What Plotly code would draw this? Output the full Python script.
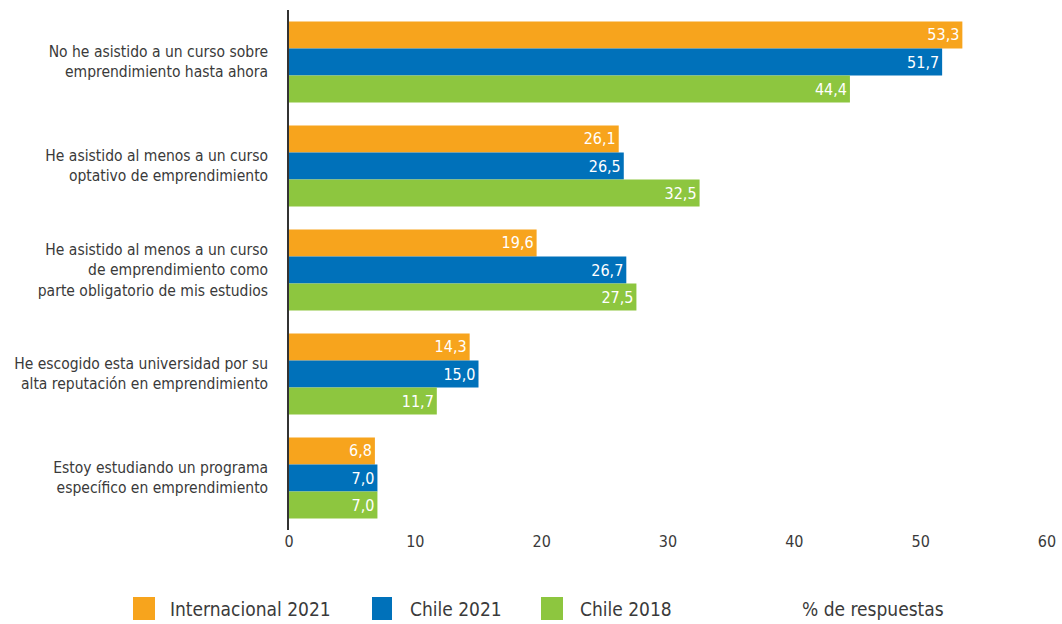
import plotly.graph_objects as go

categories = [
    "No he asistido a un curso sobre<br>emprendimiento hasta ahora",
    "He asistido al menos a un curso<br>optativo de emprendimiento",
    "He asistido al menos a un curso<br>de emprendimiento como<br>parte obligatorio de mis estudios",
    "He escogido esta universidad por su<br>alta reputación en emprendimiento",
    "Estoy estudiando un programa<br>específico en emprendimiento",
]
series_names = ["Internacional 2021", "Chile 2021", "Chile 2018"]
internacional_2021 = [53.3, 26.1, 19.6, 14.3, 6.8]
chile_2021 = [51.7, 26.5, 26.7, 15.0, 7.0]
chile_2018 = [44.4, 32.5, 27.5, 11.7, 7.0]
colors = ["#F7A41D", "#0071BA", "#8DC63F"]
x_ticks = [0, 10, 20, 30, 40, 50, 60]

FONT = "DejaVu Sans Condensed, Liberation Sans Narrow, sans-serif"
TXT = "#3a3a3a"

FW, FH = 1062, 624

fig = go.Figure()
for name, vals, col in zip(series_names, [internacional_2021, chile_2021, chile_2018], colors):
    fig.add_trace(go.Bar(
        y=categories, x=vals, name=name, orientation="h",
        marker=dict(color=col, line=dict(width=0)),
        text=vals, texttemplate="%{x:.1f}", textposition="inside",
        insidetextanchor="end", textangle=0,
        textfont=dict(color="white", size=16, family=FONT),
        showlegend=False, hoverinfo="x+name",
    ))

# Plot area geometry in pixels
L, R, T, B = 289, 1047, 10, 530
W, H = R - L, B - T
def px(x):
    return (x - L) / W
def py(y):
    return (B - y) / H

shapes = []
annotations = []
legend_items = [(133, 155, 168), (372, 392, 408), (541, 563, 578)]
for (x0, x1, tx), name, col in zip(legend_items, series_names, colors):
    shapes.append(dict(type="rect", xref="paper", yref="paper",
                       x0=px(x0), x1=px(x1), y0=py(620), y1=py(597),
                       fillcolor=col, line=dict(width=0)))
    annotations.append(dict(xref="paper", yref="paper", x=px(tx), y=py(609),
                            text=name, showarrow=False, xanchor="left", yanchor="middle",
                            font=dict(size=19, color=TXT, family=FONT)))
annotations.append(dict(xref="paper", yref="paper", x=px(800), y=py(609),
                        text="% de respuestas", showarrow=False, xanchor="left", yanchor="middle",
                        font=dict(size=19, color=TXT, family=FONT)))

fig.update_layout(
    width=FW, height=FH,
    margin=dict(l=L, r=FW - R, t=T, b=FH - B, autoexpand=False),
    barmode="group", bargap=0.22, bargroupgap=0,
    plot_bgcolor="white", paper_bgcolor="white",
    separators=",.",
    font=dict(family=FONT, color=TXT, size=16),
    xaxis=dict(range=[0, 60], tickvals=x_ticks, showgrid=False, zeroline=False,
               showline=False, ticks="", automargin=False,
               tickfont=dict(size=16, color=TXT)),
    yaxis=dict(autorange="reversed", showgrid=False, zeroline=False,
               showline=True, linecolor="#333333", linewidth=1.5,
               ticks="outside", ticklen=16, tickcolor="rgba(0,0,0,0)",
               automargin=False, tickfont=dict(size=15.5, color=TXT)),
    shapes=shapes, annotations=annotations,
)

fig.write_html("out.html",
               config={"displayModeBar": False},
               post_script="document.body.style.margin='0';document.body.style.overflow='hidden';")
